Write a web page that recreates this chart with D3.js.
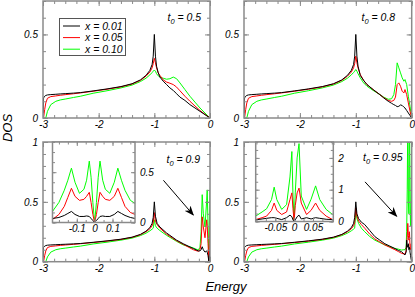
<!DOCTYPE html>
<html>
<head>
<meta charset="utf-8">
<script src="https://cdn.jsdelivr.net/npm/d3@7"></script>
<style>
body { margin: 0; background: #fff; }
text { font-family: "Liberation Sans", Arial, sans-serif; font-style: italic; }
</style>
</head>
<body>
<div id="chart"></div>
<script>
// series names / colours
const seriesNames = ['x = 0.01', 'x = 0.05', 'x = 0.10']

// lower band edge, shared by all four panels (E < -1)
const energyLow = [-3, -2.99, -2.97, -2.95, -2.92, -2.86, -2.77, -2.69, -2.59, -2.45, -2.33, -2.1, -1.85, -1.6, -1.4, -1.25, -1.15, -1.08, -1.04, -1.02]
const blackLow = [0, 0.12, 0.13, 0.135, 0.138, 0.14, 0.142, 0.144, 0.146, 0.149, 0.152, 0.162, 0.174, 0.188, 0.205, 0.228, 0.255, 0.285, 0.32, 0.37]
const redLow = [0, 0, 0.05, 0.09, 0.118, 0.128, 0.132, 0.136, 0.14, 0.145, 0.15, 0.16, 0.172, 0.186, 0.203, 0.225, 0.25, 0.275, 0.3, 0.325]
const greenLow = [0, 0, 0, 0, 0.04, 0.08, 0.1, 0.108, 0.114, 0.123, 0.13, 0.148, 0.163, 0.18, 0.197, 0.218, 0.238, 0.258, 0.272, 0.28]

// t0 = 0.5
const energyA = [-1, -0.98, -0.96, -0.93, -0.9, -0.84, -0.78, -0.72, -0.66, -0.6, -0.54, -0.45, -0.36, -0.27, -0.18, -0.09, 0]
const blackA = [0.5, 0.37, 0.31, 0.27, 0.245, 0.22, 0.2, 0.18, 0.165, 0.145, 0.125, 0.105, 0.08, 0.06, 0.04, 0.02, 0]
const redA = [0.357, 0.33, 0.3, 0.27, 0.255, 0.228, 0.215, 0.208, 0.2, 0.185, 0.163, 0.13, 0.1, 0.072, 0.045, 0.022, 0]
const greenA = [0.287, 0.28, 0.265, 0.252, 0.245, 0.238, 0.232, 0.235, 0.245, 0.235, 0.21, 0.17, 0.13, 0.095, 0.06, 0.03, 0]

// t0 = 0.8
const energyB = [-1, -0.98, -0.96, -0.92, -0.86, -0.8, -0.69, -0.57, -0.5, -0.42, -0.36, -0.32, -0.29, -0.26, -0.23, -0.2, -0.17, -0.14, -0.12, -0.09, -0.06, -0.03, 0]
const blackB = [0.5, 0.37, 0.31, 0.255, 0.225, 0.2, 0.17, 0.14, 0.12, 0.1, 0.088, 0.08, 0.075, 0.068, 0.07, 0.078, 0.075, 0.065, 0.06, 0.045, 0.03, 0.015, 0]
const redB = [0.37, 0.33, 0.3, 0.26, 0.225, 0.2, 0.17, 0.14, 0.122, 0.105, 0.1, 0.105, 0.125, 0.2, 0.21, 0.19, 0.16, 0.15, 0.17, 0.14, 0.09, 0.04, 0]
const greenB = [0.29, 0.28, 0.265, 0.24, 0.21, 0.19, 0.165, 0.14, 0.125, 0.112, 0.115, 0.14, 0.2, 0.33, 0.3, 0.27, 0.24, 0.22, 0.23, 0.2, 0.13, 0.07, 0]

// t0 = 0.9
const energyC = [-1, -0.98, -0.95, -0.9, -0.78, -0.6, -0.48, -0.3, -0.21, -0.18, -0.16, -0.14, -0.12, -0.09, -0.06, -0.05, -0.035, -0.02, -0.01, 0]
const blackC = [0.5, 0.38, 0.32, 0.29, 0.24, 0.18, 0.15, 0.11, 0.09, 0.09, 0.1, 0.125, 0.1, 0.08, 0.09, 0.08, 0.05, 0, 0.05, 0.1]
const redC = [0.41, 0.34, 0.31, 0.28, 0.23, 0.175, 0.145, 0.1, 0.087, 0.1, 0.15, 0.375, 0.29, 0.2, 0.35, 0.3, 0.15, 0, 0.15, 0.3]
const greenC = [0.35, 0.3, 0.28, 0.26, 0.22, 0.17, 0.14, 0.115, 0.097, 0.12, 0.25, 0.56, 0.4, 0.29, 0.51, 0.6, 0.3, 0, 0.3, 0.6]

// t0 = 0.95
const energyD = [-1, -0.98, -0.95, -0.9, -0.84, -0.75, -0.66, -0.57, -0.48, -0.39, -0.3, -0.24, -0.18, -0.14, -0.12, -0.1, -0.09, -0.08, -0.07, -0.06, -0.05, -0.04, -0.03, -0.02, -0.01, 0]
const blackD = [0.5, 0.4, 0.36, 0.33, 0.31, 0.26, 0.21, 0.18, 0.15, 0.13, 0.11, 0.095, 0.083, 0.065, 0.056, 0.08, 0.18, 0.14, 0.12, 0.15, 0.1, 0.12, 0.08, 0.05, 0.02, 0]
const redD = [0.45, 0.38, 0.34, 0.31, 0.28, 0.23, 0.19, 0.165, 0.14, 0.12, 0.1, 0.085, 0.07, 0.065, 0.065, 0.09, 0.15, 0.2, 0.32, 0.22, 0.18, 0.25, 0.12, 0.1, 0.15, 0.1]
const greenD = [0.43, 0.36, 0.32, 0.28, 0.25, 0.21, 0.18, 0.16, 0.14, 0.125, 0.11, 0.105, 0.097, 0.1, 0.1, 0.12, 0.25, 0.6, 1.2, 0.5, 0.4, 1.3, 0.5, 0.3, 0.6, 1.2]

// insets
const insetEnergyC = [-0.236, -0.2, -0.17, -0.15, -0.13, -0.11, -0.085, -0.06, -0.045, -0.03, -0.02, -0.01, 0, 0.01, 0.02, 0.03, 0.045, 0.06, 0.085, 0.11, 0.13, 0.15, 0.17, 0.2, 0.226]
const insetBlackC = [0.04, 0.05, 0.07, 0.09, 0.11, 0.08, 0.06, 0.06, 0.065, 0.06, 0.04, 0.02, 0, 0.02, 0.04, 0.06, 0.065, 0.06, 0.06, 0.08, 0.11, 0.09, 0.07, 0.05, 0.04]
const insetRedC = [0.03, 0.08, 0.16, 0.25, 0.34, 0.26, 0.22, 0.23, 0.26, 0.3, 0.2, 0.08, 0, 0.08, 0.2, 0.3, 0.26, 0.23, 0.22, 0.26, 0.34, 0.25, 0.16, 0.1, 0.08]
const insetGreenC = [0.11, 0.2, 0.32, 0.42, 0.54, 0.4, 0.29, 0.33, 0.42, 0.61, 0.45, 0.2, 0, 0.2, 0.45, 0.61, 0.42, 0.33, 0.29, 0.4, 0.54, 0.42, 0.32, 0.22, 0.19]

const insetEnergyD = [-0.102, -0.085, -0.073, -0.06, -0.053, -0.046, -0.033, -0.02, -0.011, -0.006, -0.003, 0, 0.003, 0.008, 0.013, 0.019, 0.033, 0.045, 0.057, 0.068, 0.085, 0.102]
const insetBlackD = [0.05, 0.08, 0.1, 0.12, 0.12, 0.1, 0.06, 0.12, 0.2, 0.15, 0.05, 0, 0.05, 0.15, 0.2, 0.08, 0.12, 0.08, 0.12, 0.1, 0.07, 0.06]
const insetRedD = [0.06, 0.12, 0.17, 0.35, 0.58, 0.35, 0.22, 0.3, 0.69, 0.9, 0.4, 0, 0.5, 0.9, 1.05, 0.58, 0.22, 0.35, 0.58, 0.35, 0.17, 0.06]
const insetGreenD = [0.17, 0.3, 0.4, 0.69, 1.08, 0.69, 0.38, 0.53, 1.4, 2.2, 0.8, 0, 0.9, 2.0, 2.45, 0.8, 0.38, 0.7, 1.12, 0.69, 0.38, 0.22]

const width = 415
const height = 297
const frameColor = '#8a8a8a'
const color = d3.scaleOrdinal(seriesNames, ['#000000', '#ff0000', '#00ff00'])

const svg = d3.select('#chart')
    .append('svg')
    .attr('width', width)
    .attr('height', height)

const rng = (a, b, s) => d3.range(Math.round(a / s), Math.round(b / s) + 1).map(i => +(i * s).toFixed(4))

const panels = [
    { t0: '0.5', E: energyA, s: [blackA, redA, greenA], box: [43, 210, 1, 118], ymax: 0.7, yMajor: [0, 0.5], tx: 167.5, ty: 21 },
    { t0: '0.8', E: energyB, s: [blackB, redB, greenB], box: [244, 411.7, 1, 118], ymax: 0.7, yMajor: [0, 0.5], tx: 361.5, ty: 21 },
    { t0: '0.9', E: energyC, s: [blackC, redC, greenC], box: [43, 210, 142, 261.7], ymax: 1, yMajor: [0, 0.5, 1], tx: 166.5, ty: 163,
      arrow: [[-0.837, 0.68], [-0.3, 0.39]],
      inset: { E: insetEnergyC, s: [insetBlackC, insetRedC, insetGreenC], box: [52.5, 135, 142, 222.5], xd: [-0.236, 0.226], yd: [0, 0.8],
               xMajor: [-0.1, 0, 0.1], xMinor: rng(-0.2, 0.2, 0.05), yMajor: [0, 0.5], yMinor: rng(0, 0.8, 0.1) } },
    { t0: '0.95', E: energyD, s: [blackD, redD, greenD], box: [244, 411.7, 142, 261.7], ymax: 1, yMajor: [0, 0.5, 1], tx: 363, ty: 161,
      arrow: [[-0.835, 0.667], [-0.27, 0.38]],
      inset: { E: insetEnergyD, s: [insetBlackD, insetRedD, insetGreenD], box: [255.7, 333.3, 142, 221.5], xd: [-0.102, 0.104], yd: [0, 2.5],
               xMajor: [-0.05, 0, 0.05], xMinor: rng(-0.1, 0.1, 0.025), yMajor: [0, 1, 2], yMinor: rng(0, 2.5, 0.25) } }
]

const lowSeries = [blackLow, redLow, greenLow]

svg.append('defs').append('marker')
    .attr('id', 'head')
    .attr('viewBox', '0 -4 10 8')
    .attr('refX', 9).attr('refY', 0)
    .attr('markerWidth', 10).attr('markerHeight', 8)
    .attr('markerUnits', 'userSpaceOnUse')
    .attr('orient', 'auto')
    .append('path')
    .attr('d', 'M0,-4L10,0L0,4L3,0Z')
    .attr('fill', '#000')

// ticks on all four sides, pointing inwards
function ticks(g, x, y, o) {
    const [xl, xr] = x.range()
    const [yb, yt] = y.range()
    const sides = [
        ['Bottom', x, `translate(0,${yb})`, o.xMinor, o.xMajor, o.xLabels],
        ['Top', x, `translate(0,${yt})`, o.xMinor, o.xMajor, false],
        ['Left', y, `translate(${xl},0)`, o.yMinor, o.yMajor, o.yLabelSide == 'left'],
        ['Right', y, `translate(${xr},0)`, o.yMinor, o.yMajor, o.yLabelSide == 'right']
    ]
    sides.forEach(([side, sc, tr, minor, major, labels]) => {
        g.append('g')
            .attr('transform', tr)
            .call(d3['axis' + side](sc).tickValues(minor).tickSizeInner(-o.minorLen).tickSizeOuter(0).tickFormat(''))
            .call(a => a.select('.domain').remove())
            .call(a => a.selectAll('line').attr('stroke', frameColor))
        g.append('g')
            .attr('transform', tr)
            .attr('font-size', o.fontSize)
            .call(d3['axis' + side](sc).tickValues(major).tickSizeInner(-o.majorLen).tickSizeOuter(0)
                .tickPadding(side == 'Bottom' ? o.xPad : o.yPad)
                .tickFormat(labels ? (d => String(d)) : ''))
            .call(a => a.select('.domain').remove())
            .call(a => a.selectAll('line').attr('stroke', frameColor))
            .call(a => a.selectAll('text').attr('fill', '#000'))
    })
    g.append('rect')
        .attr('x', xl).attr('y', yt)
        .attr('width', xr - xl).attr('height', yb - yt)
        .attr('fill', 'none')
        .attr('stroke', frameColor)
        .attr('stroke-width', 1.5)
}

function curves(g, x, y, E, series, id) {
    const [xl, xr] = x.range()
    const [yb, yt] = y.range()
    svg.select('defs').append('clipPath').attr('id', id)
        .append('rect').attr('x', xl).attr('y', yt).attr('width', xr - xl).attr('height', yb - yt)
    const line = d3.line().x(d => x(d[0])).y(d => y(d[1]))
    const order = [2, 1, 0]
    g.append('g')
        .attr('clip-path', `url(#${id})`)
        .selectAll('path')
        .data(order)
        .join('path')
        .attr('fill', 'none')
        .attr('stroke', i => color(seriesNames[i]))
        .attr('stroke-width', 1)
        .attr('stroke-linejoin', 'round')
        .attr('d', i => line(E.map((e, k) => [e, series[i][k]])))
}

panels.forEach((p, pi) => {
    const [l, r, t, b] = p.box
    const x = d3.scaleLinear().domain([-3, 0]).range([l, r])
    const y = d3.scaleLinear().domain([0, p.ymax]).range([b, t])
    const g = svg.append('g')

    const E = energyLow.concat(p.E)
    const series = p.s.map((s, i) => lowSeries[i].concat(s))
    curves(g, x, y, E, series, 'clip' + pi)

    ticks(g, x, y, {
        xMinor: rng(-3, 0, 0.2), xMajor: [-3, -2, -1, 0], xLabels: true,
        yMinor: rng(0, p.ymax, 0.1), yMajor: p.yMajor, yLabelSide: 'left',
        minorLen: 3, majorLen: 5, fontSize: 12, xPad: 3, yPad: 5
    })

    // t0 label
    const lab = g.append('text')
        .attr('x', p.tx).attr('y', p.ty)
        .attr('font-size', 10.5)
    lab.append('tspan').text('t')
    lab.append('tspan').attr('font-size', 7.5).attr('dy', 2.5).text('0')
    lab.append('tspan').attr('dy', -2.5).text(' = ' + p.t0)

    if (p.inset) {
        const q = p.inset
        const [il, ir, it, ib] = q.box
        const ix = d3.scaleLinear().domain(q.xd).range([il, ir])
        const iy = d3.scaleLinear().domain(q.yd).range([ib, it])
        const ig = g.append('g')
        ig.append('rect').attr('x', il).attr('y', it).attr('width', ir - il).attr('height', ib - it).attr('fill', '#fff')
        curves(ig, ix, iy, q.E, q.s, 'iclip' + pi)
        ticks(ig, ix, iy, {
            xMinor: q.xMinor, xMajor: q.xMajor, xLabels: true,
            yMinor: q.yMinor, yMajor: q.yMajor, yLabelSide: 'right',
            minorLen: 2.5, majorLen: 4, fontSize: 10, xPad: 2, yPad: 4
        })
        ig.selectAll('.tick text').filter(function () { return this.getAttribute('x') > 0 })
            .attr('x', 5)
    }

    if (p.arrow) {
        g.append('line')
            .attr('x1', x(p.arrow[0][0])).attr('y1', y(p.arrow[0][1]))
            .attr('x2', x(p.arrow[1][0])).attr('y2', y(p.arrow[1][1]))
            .attr('stroke', '#000')
            .attr('stroke-width', 1)
            .attr('marker-end', 'url(#head)')
    }
})

// legend
const legend = svg.append('g')
legend.append('rect')
    .attr('x', 59.5).attr('y', 18.5)
    .attr('width', 66).attr('height', 37)
    .attr('fill', '#fff')
    .attr('stroke', '#555')
    .attr('stroke-width', 1)
const item = legend.selectAll('g.item')
    .data(seriesNames)
    .join('g')
    .attr('class', 'item')
    .attr('transform', (d, i) => `translate(0,${26 + i * 11.6})`)
item.append('line')
    .attr('x1', 63).attr('x2', 80)
    .attr('stroke', d => color(d))
    .attr('stroke-width', 1)
item.append('text')
    .attr('x', 85).attr('dy', '0.35em')
    .attr('font-size', 10.5)
    .text(d => d)

// axis titles
svg.append('text')
    .attr('transform', 'translate(12,128) rotate(-90)')
    .attr('text-anchor', 'middle')
    .attr('font-size', 13)
    .text('DOS')

svg.append('text')
    .attr('x', 226).attr('y', 291)
    .attr('text-anchor', 'middle')
    .attr('font-size', 13)
    .text('Energy')
</script>
</body>
</html>
